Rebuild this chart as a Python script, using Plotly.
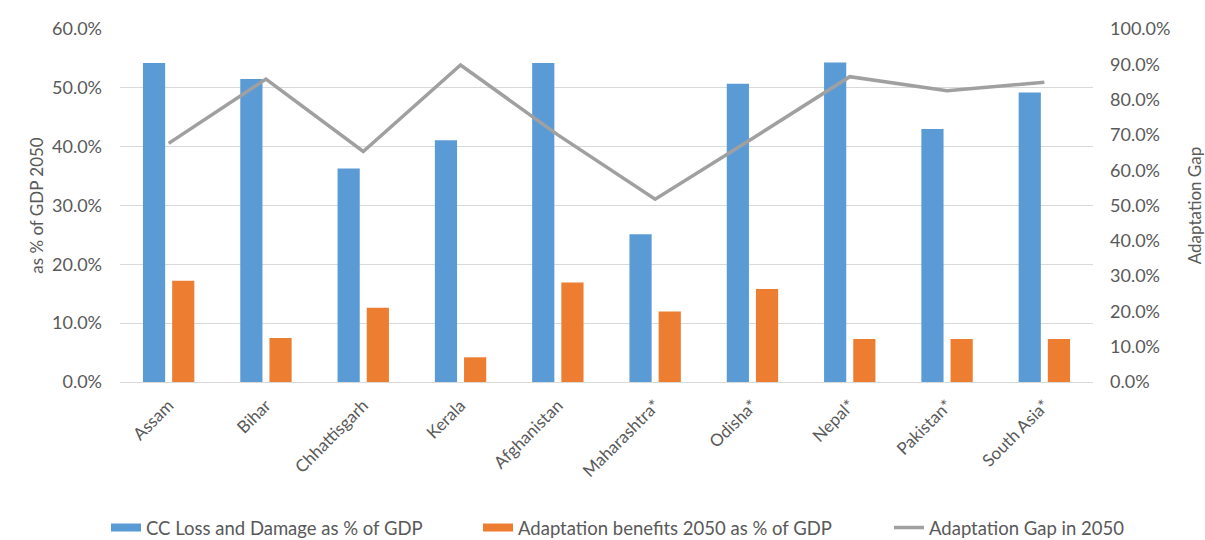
import plotly.graph_objects as go

# Regions and their climate-change economics figures (percent)
regions = ["Assam", "Bihar", "Chhattisgarh", "Kerala", "Afghanistan",
           "Maharashtra*", "Odisha*", "Nepal*", "Pakistan*", "South Asia*"]
loss_damage = [54.2, 51.5, 36.3, 41.1, 54.2, 25.1, 50.7, 54.3, 43.0, 49.2]
adapt_benefits = [17.2, 7.5, 12.6, 4.2, 16.9, 12.0, 15.8, 7.3, 7.3, 7.3]
adapt_gap = [67.6, 85.8, 65.3, 89.8, 70.0, 51.8, 69.0, 86.5, 82.5, 84.9]

left_ticks = [0, 10, 20, 30, 40, 50, 60]
right_ticks = [0, 10, 20, 30, 40, 50, 60, 70, 80, 90, 100]

FONT = "Lato"
TXT = "#595959"
BLUE = "#5B9BD5"
ORANGE = "#ED7D31"
GREY = "#A0A0A0"


def pct_labels(vals):
    return [f"{v:.1f}%" for v in vals]


fig = go.Figure()
fig.add_trace(go.Bar(x=regions, y=loss_damage, name="CC Loss and Damage as % of GDP",
                     marker=dict(color=BLUE, line=dict(width=0)), showlegend=False))
fig.add_trace(go.Bar(x=regions, y=adapt_benefits, name="Adaptation benefits 2050 as % of GDP",
                     marker=dict(color=ORANGE, line=dict(width=0)), showlegend=False))
fig.add_trace(go.Scatter(x=regions, y=adapt_gap, name="Adaptation Gap in 2050", yaxis="y2",
                         mode="lines", line=dict(color=GREY, width=3.5), showlegend=False))

# Legend keys (one legend box each, spaced along the bottom):
# flat wide swatches for the bars, a thin stroke for the line
legend_keys = [("CC Loss and Damage as % of GDP", BLUE, 8, "legend"),
               ("Adaptation benefits 2050 as % of GDP", ORANGE, 8, "legend2"),
               ("Adaptation Gap in 2050", GREY, 3.5, "legend3")]
for name, color, width, lg in legend_keys:
    fig.add_trace(go.Scatter(x=[None], y=[None], mode="lines", name=name, legend=lg,
                             line=dict(color=color, width=width), hoverinfo="skip"))


def key_box(x_px):
    return dict(orientation="h", x=x_px / 1205, xanchor="left", xref="container",
                y=1 - 528 / 540, yanchor="middle", yref="container",
                font=dict(size=18.5, color=TXT), bgcolor="rgba(0,0,0,0)")


fig.update_layout(
    width=1205, height=540,
    margin=dict(l=120, r=112, t=29, b=158),
    paper_bgcolor="white", plot_bgcolor="white",
    font=dict(family=FONT, size=17, color=TXT),
    barmode="group", bargap=0.40, bargroupgap=0.24,
    xaxis=dict(tickangle=-45, showgrid=False, showline=True, linecolor="#d9d9d9",
               ticks="", automargin=False, ticklabelstandoff=6,
               tickfont=dict(size=17, color=TXT)),
    yaxis=dict(range=[0, 60], tickvals=left_ticks, ticktext=pct_labels(left_ticks),
               showgrid=True, gridcolor="#d9d9d9", gridwidth=1, zeroline=False,
               automargin=False, ticklabelstandoff=17,
               title=dict(text="as % of GDP 2050", font=dict(size=17, color=TXT), standoff=4),
               tickfont=dict(size=18, color=TXT)),
    yaxis2=dict(range=[0, 100], tickvals=right_ticks, ticktext=pct_labels(right_ticks),
                overlaying="y", side="right", showgrid=False, zeroline=False,
                automargin=False, ticklabelstandoff=16,
                title=dict(text="Adaptation Gap", font=dict(size=17, color=TXT), standoff=22),
                tickfont=dict(size=18, color=TXT)),
    legend=key_box(106),
    legend2=key_box(478),
    legend3=key_box(889),
)

fig.write_html("out.html")
